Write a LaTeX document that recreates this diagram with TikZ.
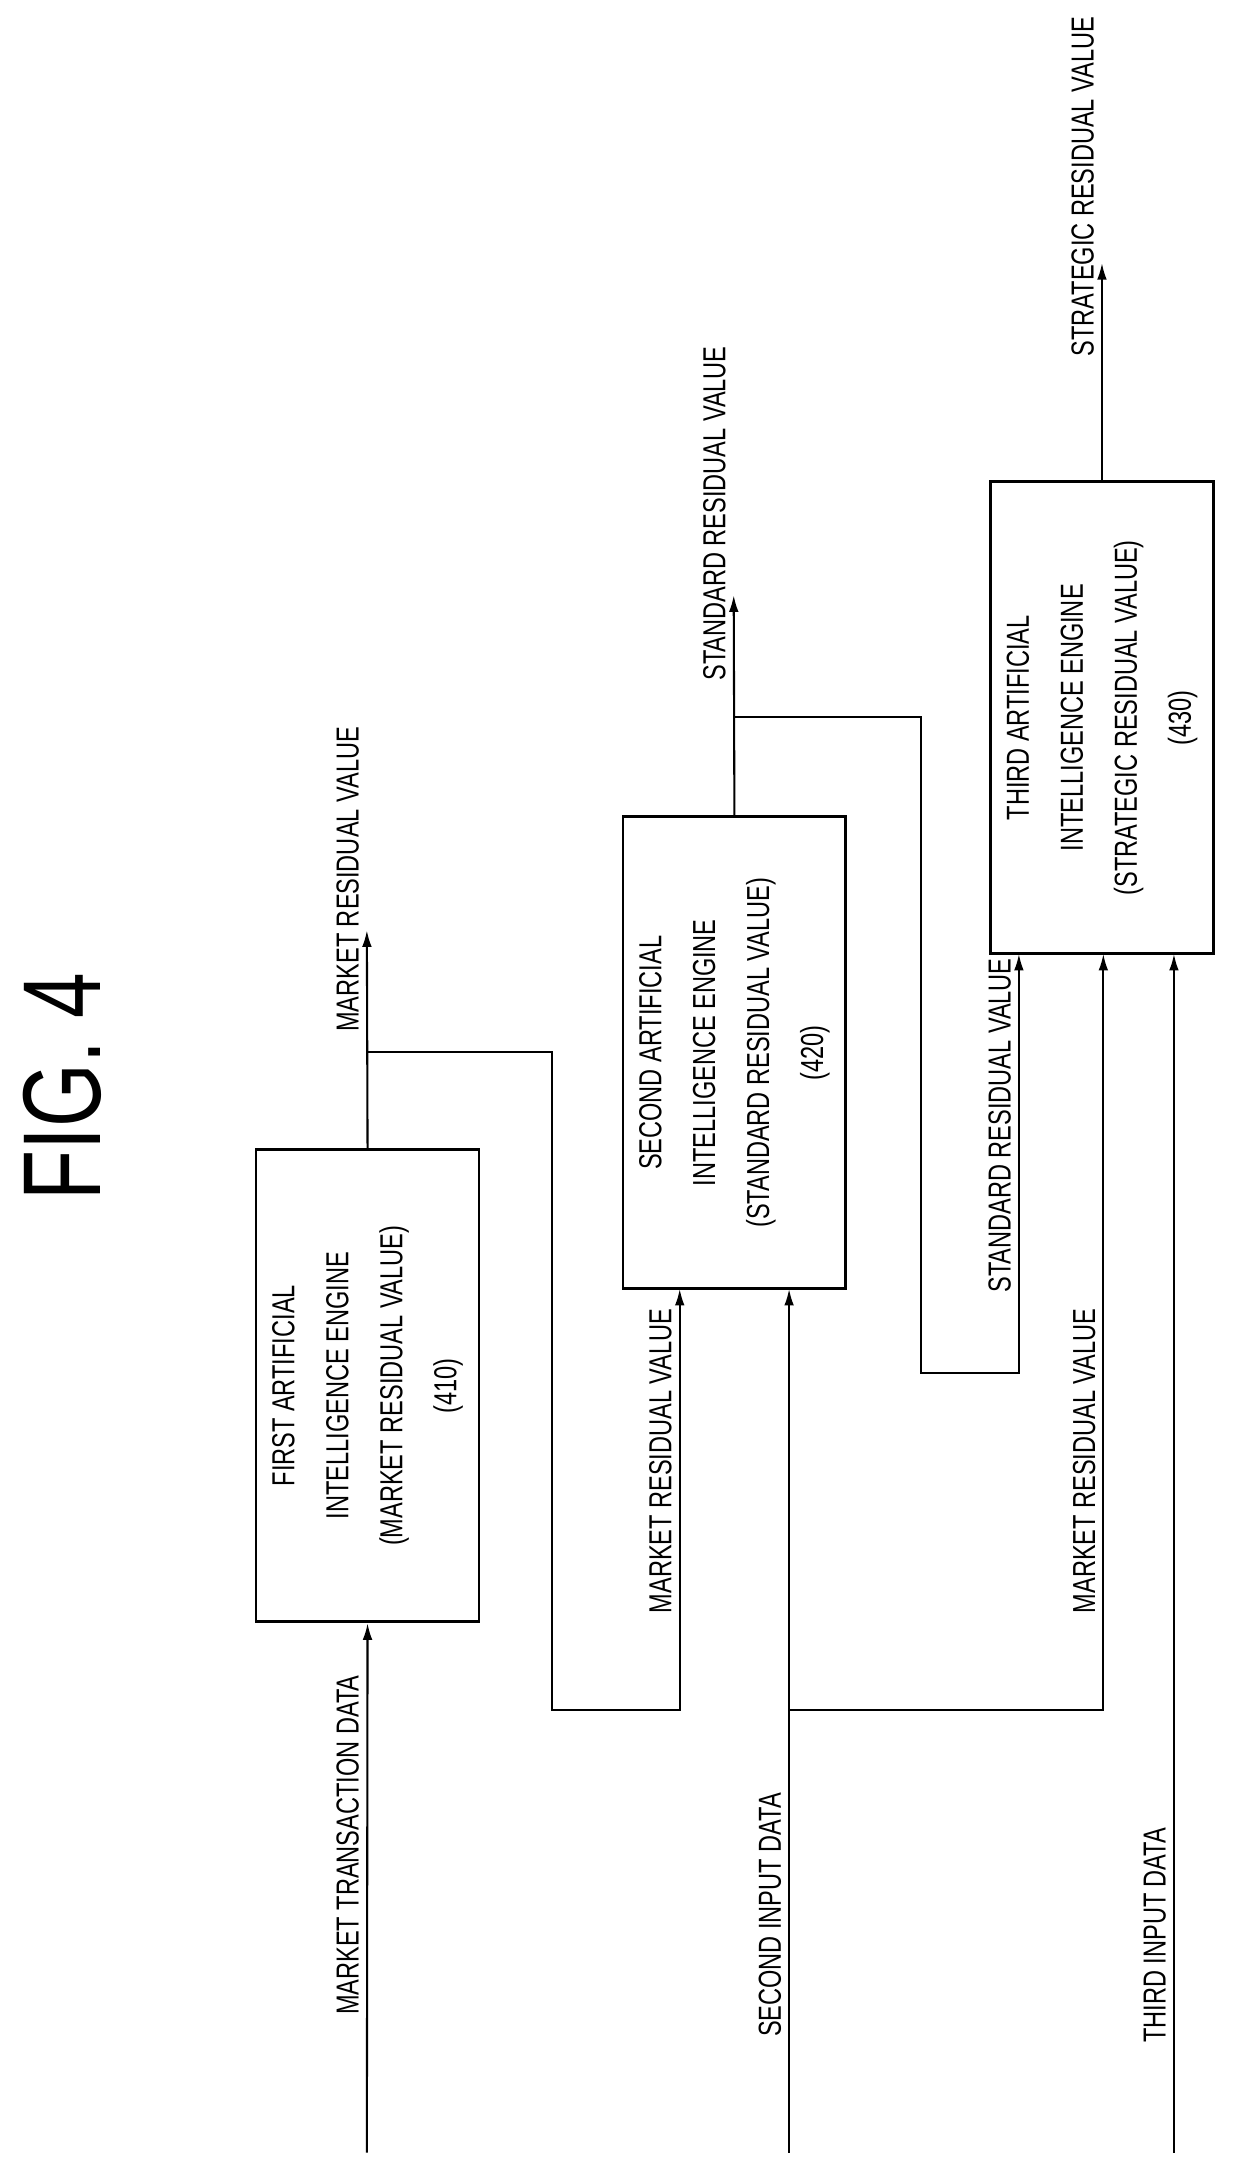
\documentclass[tikz,border=0pt]{standalone}
\usepackage{fontspec}
\setmainfont{Liberation Sans}[FakeStretch=0.74]
\usetikzlibrary{arrows.meta}
\begin{document}
\begin{tikzpicture}[x=1pt,y=-1pt,
  box/.style={draw,line width=2pt,minimum width=341pt,minimum height=161pt,rotate=90,align=center,font=\fontsize{23}{39}\selectfont},
  lab/.style={rotate=90,anchor=base east,font=\fontsize{23}{27}\selectfont,inner sep=0pt},
  arr/.style={line width=1.5pt,-{Latex[length=12pt,width=7pt]}}]
\useasboundingbox (0,0) rectangle (890,1561);
\node[rotate=90,font=\fontsize{80}{90}\selectfont,inner sep=0pt] (fig) at (45,785) {FIG. 4};
\node[box] (b1) at (265.5,1001) {FIRST ARTIFICIAL\\INTELLIGENCE ENGINE\\(MARKET RESIDUAL VALUE)\\(410)};
\node[box] (b2) at (530.5,760.5) {SECOND ARTIFICIAL\\INTELLIGENCE ENGINE\\(STANDARD RESIDUAL VALUE)\\(420)};
\node[box] (b3) at (796,518.5) {THIRD ARTIFICIAL\\INTELLIGENCE ENGINE\\(STRATEGIC RESIDUAL VALUE)\\(430)};
% inputs
\coordinate (in1) at (265,1555);
\coordinate (in2) at (570,1555);
\coordinate (in3) at (848,1555);
\draw[arr] (in1) -- (b1.west);
\draw[arr] (in2) -- (570,931);
\draw[arr] (in3) -- (848,689);
% outputs
\coordinate (o1) at (265,672);
\coordinate (o2) at (530,430);
\coordinate (o3) at (796,190);
\draw[arr] (b1.east) -- (o1);
\draw[arr] (b2.east) -- (o2);
\draw[arr] (b3.east) -- (o3);
% branches
\coordinate (j1) at (265,760);
\coordinate (j2) at (570,1235);
\coordinate (j3) at (530,518);
\draw[arr] (j1) -- (399,760) -- (399,1235) -- (491,1235) -- (491,931);
\draw[arr] (j2) -- (797,1235) -- (797,689);
\draw[arr] (j3) -- (665,518) -- (665,992) -- (736,992) -- (736,689);
% labels
\node[lab] (l1) at (259,1210) {MARKET TRANSACTION DATA};
\node[lab] (l2) at (259,525) {MARKET RESIDUAL VALUE};
\node[lab] (l3) at (485,945) {MARKET RESIDUAL VALUE};
\node[lab] (l4) at (564,1295) {SECOND INPUT DATA};
\node[lab] (l5) at (791,945) {MARKET RESIDUAL VALUE};
\node[lab] (l6) at (524,250) {STANDARD RESIDUAL VALUE};
\node[lab] (l7) at (730,692) {STANDARD RESIDUAL VALUE};
\node[lab] (l8) at (842,1320) {THIRD INPUT DATA};
\node[lab] (l9) at (790,12) {STRATEGIC RESIDUAL VALUE};
\end{tikzpicture}
\end{document}
